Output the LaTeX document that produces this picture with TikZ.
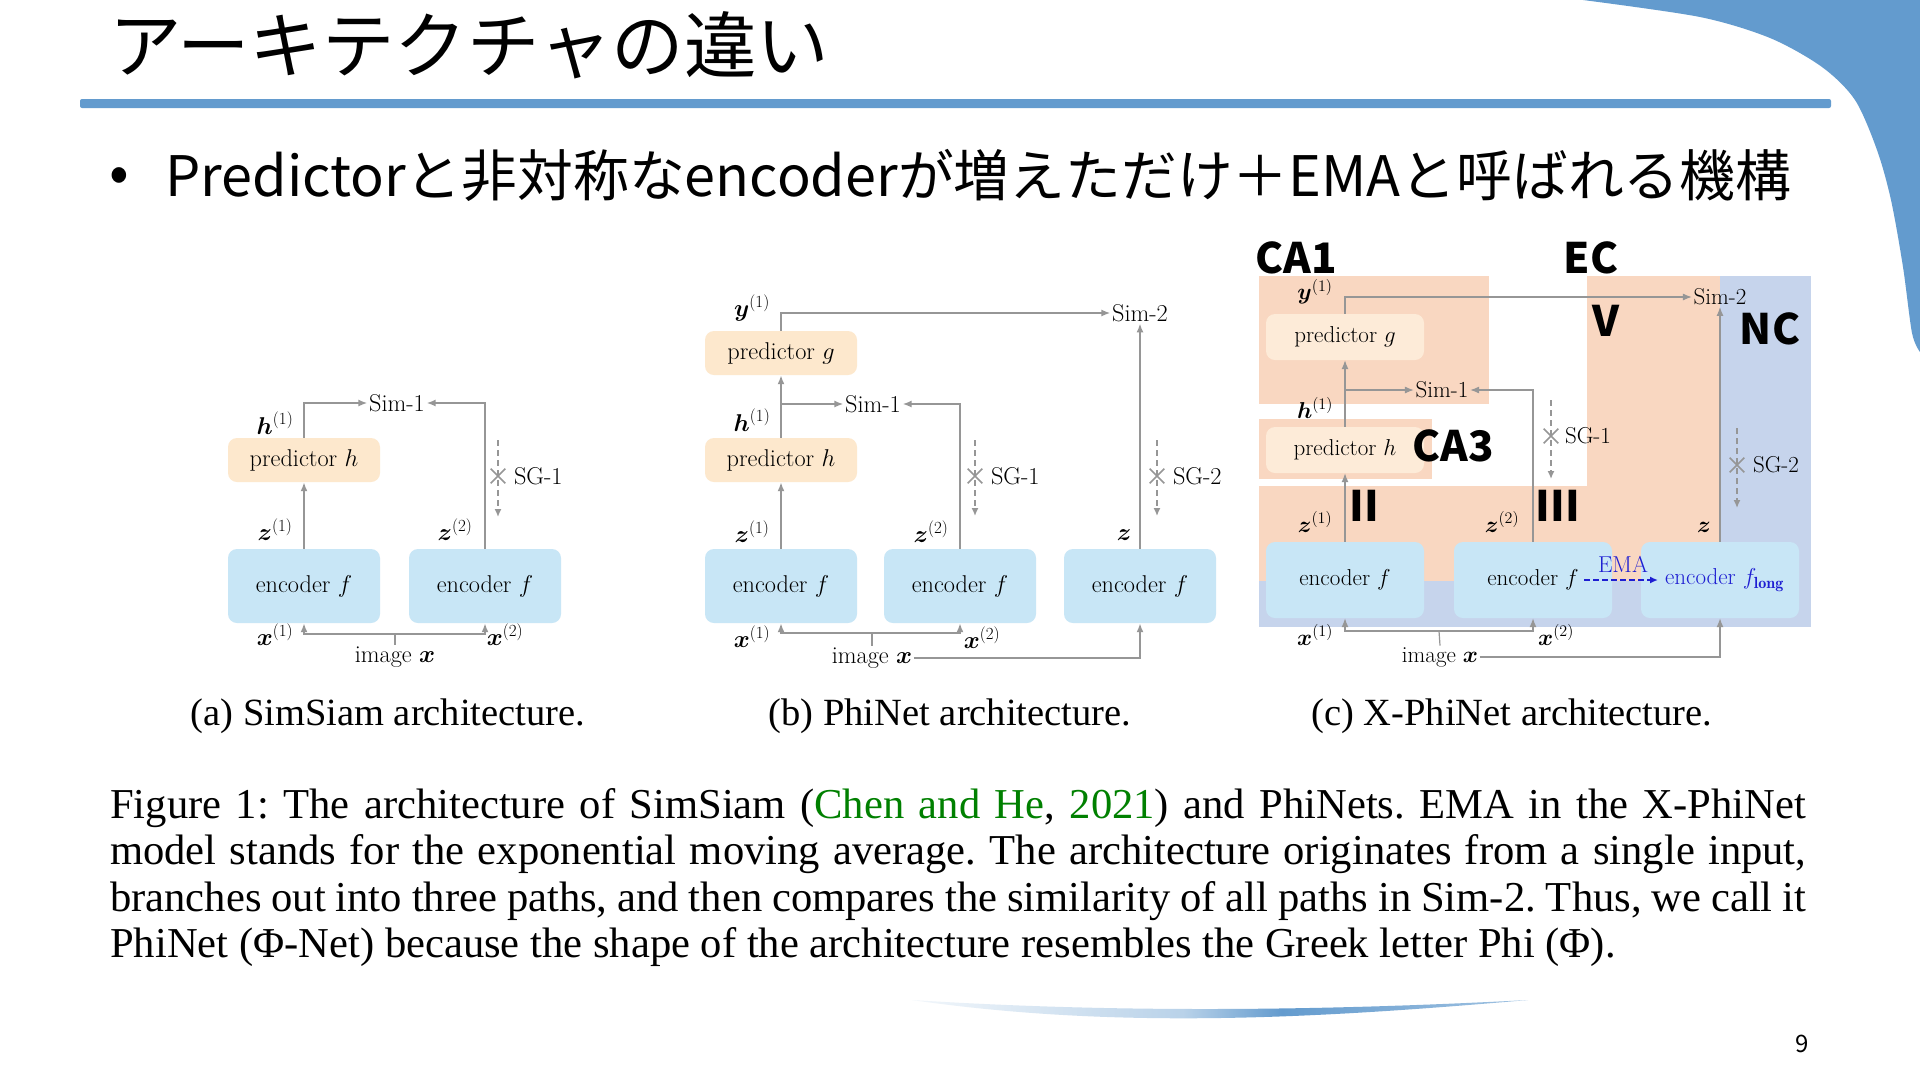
\RequirePackage{fix-cm}
\documentclass[tikz,border=0pt]{standalone}
\usepackage{fontspec}
\usepackage{amsmath}
\usepackage{tikz}
\usetikzlibrary{arrows.meta,shapes.misc,positioning}
\newfontfamily\jpfont{Noto Sans CJK JP}
\newfontfamily\capfont{Liberation Serif}
\definecolor{slideblue}{RGB}{99,155,206}
\definecolor{encblue}{RGB}{200,230,246}
\definecolor{predorange}{RGB}{253,232,205}
\definecolor{predcream}{RGB}{253,235,216}
\definecolor{linegray}{RGB}{150,150,150}
\definecolor{salmon}{RGB}{249,215,193}
\definecolor{ncblue}{RGB}{198,212,236}
\definecolor{citegreen}{RGB}{0,128,0}
\definecolor{emablue}{RGB}{30,30,210}
\pgfdeclarehorizontalshading{swoosh}{100bp}{color(0bp)=(slideblue!8); color(25bp)=(slideblue!8); color(47bp)=(slideblue!45); color(55bp)=(slideblue); color(75bp)=(slideblue!60); color(100bp)=(slideblue!60)}
\def\panelfont{\fontsize{24.3}{28}\selectfont}
\def\xpanelfont{\fontsize{23}{27}\selectfont}
\def\bx{\boldsymbol}
\tikzset{
  box/.style={rectangle, rounded corners=9pt, inner sep=0pt, font=\panelfont},
  encbox/.style={box, fill=encblue, minimum width=152pt, minimum height=74pt},
  predbox/.style={box, fill=predorange, minimum width=152pt, minimum height=44pt},
  lbl/.style={inner sep=1.5pt, font=\panelfont},
  xlbl/.style={inner sep=1.5pt, font=\xpanelfont},
  conn/.style={draw=linegray, line width=1.8pt, -{Latex[length=9pt,width=7pt]}},
  thinconn/.style={conn, line width=1.2pt},
  plain/.style={draw=linegray, line width=1.8pt},
  sgline/.style={draw=linegray, line width=1.5pt, dash pattern=on 6pt off 4pt, -{Latex[length=8pt,width=7pt]}},
  sgx/.style={draw=linegray, cross out, minimum size=13pt, inner sep=0pt, line width=1.6pt},
  bigtag/.style={font=\jpfont\bfseries\fontsize{42}{42}\selectfont, inner sep=0pt},
  subcap/.style={font=\capfont\fontsize{38.5}{46}\selectfont, inner sep=0pt},
  capline/.style={font=\capfont\frenchspacing\fontsize{42.6}{46.5}\selectfont, inner sep=0pt, anchor=base west}
}
\begin{document}
\begin{tikzpicture}[x=1pt,y=-1pt]
			\useasboundingbox (0,0) rectangle (1920,1080);
			\fill[white] (0,0) rectangle (1920,1080);
			%%%%% SLIDE %%%%%
			\fill[slideblue] plot[smooth] coordinates {(1583,0) (1700,17) (1770,38) (1822,67) (1855,100) (1877,150) (1891,200) (1903,267) (1912,333) (1920,352)} -- (1920,0) -- cycle;
			\fill[slideblue, rounded corners=2pt] (80,99) rectangle (1831,108);
			\shade[shading=swoosh] (912,1000) .. controls (1100,1012) and (1300,1012) .. (1528,1000) .. controls (1320,1018) and (1120,1030) .. (912,1000) -- cycle;
			
			\node[anchor=base west, inner sep=0pt, font=\jpfont\fontsize{72.5}{72.5}\selectfont] (title) at (109,72) {アーキテクチャの違い};
			\node[inner sep=0pt, font=\jpfont\fontsize{58}{58}\selectfont] (bullet) at (119,180) {•};
			\node[anchor=base west, inner sep=0pt, font=\jpfont\fontsize{55.8}{55.8}\selectfont] (point) at (165,196) {Predictorと非対称なencoderが増えただけ＋EMAと呼ばれる機構};
			\node[inner sep=0pt, font=\jpfont\fontsize{24}{24}\selectfont] (pagenum) at (1802,1044) {9};
			
			%%%%% (a) SimSiam %%%%%
			\node[predbox] (aph) at (304,460) {predictor $h$};
			\node[encbox] (ae1) at (304,586) {encoder $f$};
			\node[encbox] (ae2) at (485,586) {encoder $f$};
			\node[lbl] (as1) at (397,403) {Sim-1};
			\node[lbl] (ah1) at (275,423) {$\bx{h}^{(1)}$};
			\node[lbl] (az1) at (275,530) {$\bx{z}^{(1)}$};
			\node[lbl] (az2) at (455,530) {$\bx{z}^{(2)}$};
			\node[lbl] (ax1) at (275,635) {$\bx{x}^{(1)}$};
			\node[lbl] (ax2) at (505,635) {$\bx{x}^{(2)}$};
			\node[lbl] (aimg) at (395,657) {image $\bx{x}$};
			\coordinate (abr) at (395,634);
			\draw[conn] (ae1.north) -- (aph.south);
			\draw[conn] (aph.north) |- (as1.west);
			\draw[conn] (ae2.north) |- (as1.east);
			\draw[plain] (aimg.north) -- (abr);
			\draw[conn] (abr) -| (ae1.south);
			\draw[conn] (abr) -| (ae2.south);
			\coordinate (asg0) at (498,440);
			\coordinate (asg1) at (498,517);
			\draw[sgline] (asg0) -- (asg1);
			\node[sgx] (asgx) at (498,476) {};
			\node[lbl, right=7pt of asgx] (asgl) {SG-1};
			\node[subcap] (capa) at (388,716) {(a) SimSiam architecture.};
			
			%%%%% (b) PhiNet %%%%%
			\node[predbox] (bpg) at (781,353) {predictor $g$};
			\node[predbox] (bph) at (781,460) {predictor $h$};
			\node[encbox] (be1) at (781,586) {encoder $f$};
			\node[encbox] (be2) at (960,586) {encoder $f$};
			\node[encbox] (be3) at (1140,586) {encoder $f$};
			\node[lbl] (bs1) at (873,404) {Sim-1};
			\node[lbl] (bs2) at (1140,313) {Sim-2};
			\node[lbl] (by1) at (752,308) {$\bx{y}^{(1)}$};
			\node[lbl] (bh1) at (752,420) {$\bx{h}^{(1)}$};
			\node[lbl] (bz1) at (752,532) {$\bx{z}^{(1)}$};
			\node[lbl] (bz2) at (931,532) {$\bx{z}^{(2)}$};
			\node[lbl] (bz) at (1124,535) {$\bx{z}$};
			\node[lbl] (bx1) at (752,637) {$\bx{x}^{(1)}$};
			\node[lbl] (bx2) at (982,638) {$\bx{x}^{(2)}$};
			\node[lbl] (bimg) at (872,658) {image $\bx{x}$};
			\coordinate (bbr) at (872,633);
			\draw[conn] (be1.north) -- (bph.south);
			\draw[conn] (bph.north) -- (bpg.south);
			\draw[conn] (bph.north) |- (bs1.west);
			\draw[conn] (be2.north) |- (bs1.east);
			\draw[conn] (bpg.north) |- (bs2.west);
			\draw[conn] (be3.north) -- (bs2.south);
			\draw[plain] (bimg.north) -- (bbr);
			\draw[conn] (bbr) -| (be1.south);
			\draw[conn] (bbr) -| (be2.south);
			\draw[conn] (bimg.east) -| (be3.south);
			\coordinate (bsg0) at (975,440);
			\coordinate (bsg1) at (975,516);
			\draw[sgline] (bsg0) -- (bsg1);
			\node[sgx] (bsgx) at (975,476) {};
			\node[lbl, right=7pt of bsgx] (bsgl) {SG-1};
			\coordinate (bsh0) at (1157,440);
			\coordinate (bsh1) at (1157,516);
			\draw[sgline] (bsh0) -- (bsh1);
			\node[sgx] (bshx) at (1157,476) {};
			\node[lbl, right=7pt of bshx] (bshl) {SG-2};
			\node[subcap] (capb) at (950,716) {(b) PhiNet architecture.};
			
			%%%%% (c) X-PhiNet %%%%%
			\fill[salmon] (1259,276) rectangle (1489,404);
			\fill[salmon] (1259,419) rectangle (1432,479);
			\fill[salmon] (1259,486) rectangle (1720,581);
			\fill[salmon] (1587,276) rectangle (1720,486);
			\fill[ncblue] (1720,276) rectangle (1811,627);
			\fill[ncblue] (1259,581) rectangle (1811,627);
			\node[predbox, font=\xpanelfont, fill=predcream, minimum width=158pt, minimum height=46pt] (cpg) at (1345,337) {predictor $g$};
			\node[predbox, font=\xpanelfont, fill=predcream, minimum width=158pt, minimum height=46pt] (cph) at (1345,450) {predictor $h$};
			\node[encbox, font=\xpanelfont, minimum width=158pt, minimum height=76pt] (ce1) at (1345,580) {encoder $f$};
			\node[encbox, font=\xpanelfont, minimum width=158pt, minimum height=76pt] (ce2) at (1533,580) {encoder $f$};
			\node[encbox, font=\xpanelfont, minimum width=158pt, minimum height=76pt, text=emablue] (ce3) at (1720,580) {\hspace*{9pt}encoder $f_{\mathbf{long}}$};
			\node[xlbl] (cs1) at (1442,390) {Sim-1};
			\node[xlbl] (cs2) at (1720,297) {Sim-2};
			\node[xlbl] (cy1) at (1315,292) {$\bx{y}^{(1)}$};
			\node[xlbl] (ch1) at (1315,408) {$\bx{h}^{(1)}$};
			\node[xlbl] (cz1) at (1315,522) {$\bx{z}^{(1)}$};
			\node[xlbl] (cz2) at (1502,522) {$\bx{z}^{(2)}$};
			\node[xlbl] (cz) at (1704,527) {$\bx{z}$};
			\node[xlbl] (cx1) at (1315,635) {$\bx{x}^{(1)}$};
			\node[xlbl] (cx2) at (1556,635) {$\bx{x}^{(2)}$};
			\node[xlbl] (cimg) at (1440,657) {image $\bx{x}$};
			\coordinate (cbr) at (1439,631);
			\draw[thinconn] (ce1.north) -- (cph.south);
			\draw[thinconn] (cph.north) -- (cpg.south);
			\draw[thinconn] (cph.north) |- (cs1.west);
			\draw[thinconn] (ce2.north) |- (cs1.east);
			\draw[thinconn] (cpg.north) |- (cs2.west);
			\draw[thinconn] (ce3.north) -- (cs2.south);
			\draw[plain, line width=1.2pt] (cimg.north) -- (cbr);
			\draw[thinconn] (cbr) -| (ce1.south);
			\draw[thinconn] (cbr) -| (ce2.south);
			\draw[thinconn] (cimg.east) -| (ce3.south);
			\coordinate (csg0) at (1551,400);
			\coordinate (csg1) at (1551,479);
			\draw[sgline] (csg0) -- (csg1);
			\node[sgx] (csgx) at (1551,436) {};
			\node[xlbl, right=5pt of csgx] (csgl) {SG-1};
			\coordinate (csh0) at (1737,428);
			\coordinate (csh1) at (1737,508);
			\draw[sgline] (csh0) -- (csh1);
			\node[sgx] (cshx) at (1737,465) {};
			\node[xlbl, right=7pt of cshx] (cshl) {SG-2};
			\coordinate (cema0) at (1584,580);
			\coordinate (cema1) at (1658,580);
			\draw[emablue, line width=1.6pt, dash pattern=on 6pt off 3pt, -{Latex[length=8pt,width=7pt]}] (cema0) -- (cema1);
			\node[xlbl, text=emablue] (cema) at (1623,564) {EMA};
			\node[bigtag] (tca1) at (1296,258) {CA1};
			\node[bigtag] (tec) at (1591,258) {EC};
			\node[bigtag] (tv) at (1606,321) {V};
			\node[bigtag] (tnc) at (1770,329) {NC};
			\node[bigtag] (tca3) at (1453,446) {CA3};
			\node[bigtag] (tii) at (1364,506) {II};
			\node[bigtag] (tiii) at (1558,506) {III};
			\node[subcap] (capc) at (1512,716) {(c) X-PhiNet architecture.};
			
			%%%%% CAPTION %%%%%
			\node[capline] (cap1) at (110,818) {\makebox[1696pt][s]{Figure 1: The architecture of SimSiam ({\color{citegreen}Chen and He}, {\color{citegreen}2021}) and PhiNets. EMA in the X-PhiNet}};
			\node[capline] (cap2) at (110,864.5) {\makebox[1696pt][s]{model stands for the exponential moving average. The architecture originates from a single input,}};
			\node[capline] (cap3) at (110,911) {\makebox[1696pt][s]{branches out into three paths, and then compares the similarity of all paths in Sim-2. Thus, we call it}};
			\node[capline] (cap4) at (110,957.5) {PhiNet (Φ-Net) because the shape of the architecture resembles the Greek letter Phi (Φ).};
		\end{tikzpicture}
\end{document}
